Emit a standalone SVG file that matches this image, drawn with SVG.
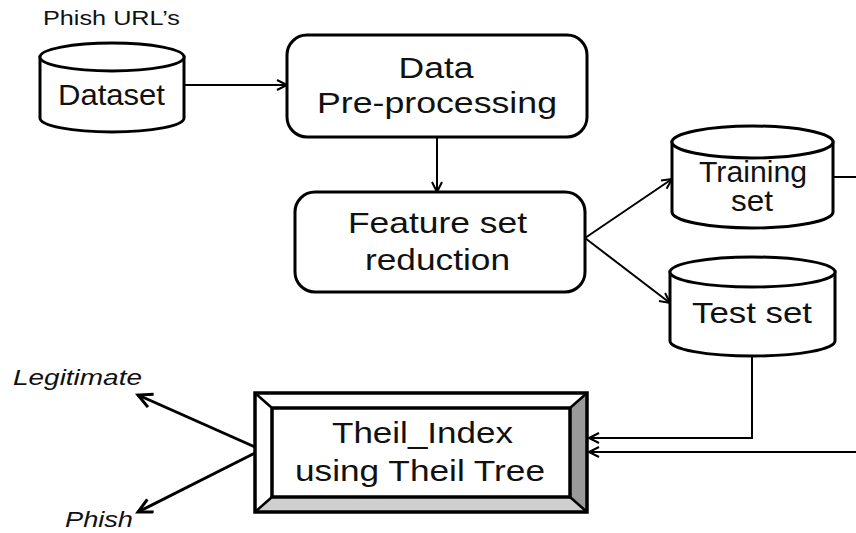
<svg xmlns="http://www.w3.org/2000/svg" width="856" height="533" viewBox="0 0 856 533">
  <style>
    .shape { fill: #fff; stroke: #000; stroke-width: 3; }
    .lbl { font-family: "Liberation Sans", Arial, sans-serif; font-size: 30px; fill: #111; text-anchor: middle; }
    .out { font-family: "Liberation Sans", Arial, sans-serif; font-size: 22px; font-style: italic; fill: #111; }
    .conn { fill: none; stroke: #000; stroke-width: 2; }
    .conn-thick { fill: none; stroke: #000; stroke-width: 3; }
  </style>
  <defs>
    <marker id="arrow" markerUnits="userSpaceOnUse" markerWidth="14" markerHeight="14" refX="11" refY="6" orient="auto">
      <path d="M1,1 L11,6 L1,11" fill="none" stroke="#000" stroke-width="2"/>
    </marker>
    <marker id="arrow-big" markerUnits="userSpaceOnUse" markerWidth="20" markerHeight="20" refX="15" refY="8" orient="auto">
      <path d="M1,1 L15,8 L1,15" fill="none" stroke="#000" stroke-width="3"/>
    </marker>
  </defs>
  <rect width="856" height="533" fill="#fff"/>

  <!-- connectors -->
  <g id="connectors">
    <path class="conn" d="M184,85 L287,85" marker-end="url(#arrow)"/>
    <path class="conn" d="M437,137 L437,192" marker-end="url(#arrow)"/>
    <path class="conn" d="M585,238 L672,179" marker-end="url(#arrow)"/>
    <path class="conn" d="M585,238 L670,303" marker-end="url(#arrow)"/>
    <path class="conn" d="M752,356 L752,438 L589,438" marker-end="url(#arrow)"/>
    <path class="conn" d="M833,177 L856,177"/>
    <path class="conn" d="M856,452 L589,452" marker-end="url(#arrow)"/>
    <path class="conn-thick" d="M255,447 L138,395" marker-end="url(#arrow-big)"/>
    <path class="conn-thick" d="M255,453 L138,512" marker-end="url(#arrow-big)"/>
  </g>

  <!-- source dataset -->
  <g id="dataset">
    <text x="43" y="25" font-family="Liberation Sans, Arial, sans-serif" font-size="21" fill="#111" textLength="137" lengthAdjust="spacingAndGlyphs">Phish URL’s</text>
    <path class="shape" d="M40,57 L40,118 A72,14 0 0 0 184,118 L184,57 Z"/>
    <ellipse class="shape" cx="112" cy="57" rx="72" ry="14"/>
    <text class="lbl" x="111.5" y="105" textLength="107" lengthAdjust="spacingAndGlyphs">Dataset</text>
  </g>

  <g id="preprocessing">
    <rect class="shape" x="287" y="35" width="300" height="102" rx="20"/>
    <text class="lbl" x="436" y="78" textLength="75" lengthAdjust="spacingAndGlyphs">Data</text>
    <text class="lbl" x="437" y="113" textLength="240" lengthAdjust="spacingAndGlyphs">Pre-processing</text>
  </g>

  <g id="feature-reduction">
    <rect class="shape" x="295" y="192" width="290" height="100" rx="20"/>
    <text class="lbl" x="437.5" y="233" textLength="179" lengthAdjust="spacingAndGlyphs">Feature set</text>
    <text class="lbl" x="437.5" y="270" textLength="145" lengthAdjust="spacingAndGlyphs">reduction</text>
  </g>

  <g id="training-set">
    <path class="shape" d="M672,142 L672,212 A80.5,16 0 0 0 833,212 L833,142 Z"/>
    <text class="lbl" x="753" y="182" font-size="28" textLength="108" lengthAdjust="spacingAndGlyphs">Training</text>
    <ellipse class="shape" cx="752.5" cy="142" rx="80.5" ry="16"/>
    <text class="lbl" x="752" y="211" textLength="42" lengthAdjust="spacingAndGlyphs">set</text>
  </g>

  <g id="test-set">
    <path class="shape" d="M670,272 L670,341 A82.5,15 0 0 0 835,341 L835,272 Z"/>
    <ellipse class="shape" cx="752.5" cy="272" rx="82.5" ry="15"/>
    <text class="lbl" x="752" y="323" textLength="120" lengthAdjust="spacingAndGlyphs">Test set</text>
  </g>

  <g id="theil-classifier">
    <rect x="255" y="393" width="332" height="119" fill="#fff"/>
    <polygon points="587,393 570,408 570,497 587,512" fill="#9a9a9a"/>
    <polygon points="255,512 272,497 570,497 587,512" fill="#cfcfcf"/>
    <path d="M255,393 L272,408 M587,393 L570,408 M255,512 L272,497 M587,512 L570,497" stroke="#000" stroke-width="2.5" fill="none"/>
    <rect x="255" y="393" width="332" height="119" fill="none" stroke="#000" stroke-width="3.5"/>
    <rect x="272" y="408" width="298" height="89" fill="#fff" stroke="#000" stroke-width="3.5"/>
    <text class="lbl" x="422.5" y="443" textLength="181" lengthAdjust="spacingAndGlyphs">Theil_Index</text>
    <text class="lbl" x="420" y="481" textLength="250" lengthAdjust="spacingAndGlyphs">using Theil Tree</text>
  </g>

  <g id="outcome-legitimate">
    <text class="out" x="13" y="385" textLength="129" lengthAdjust="spacingAndGlyphs">Legitimate</text>
  </g>
  <g id="outcome-phish">
    <text class="out" x="65" y="527" textLength="68" lengthAdjust="spacingAndGlyphs">Phish</text>
  </g>
</svg>
